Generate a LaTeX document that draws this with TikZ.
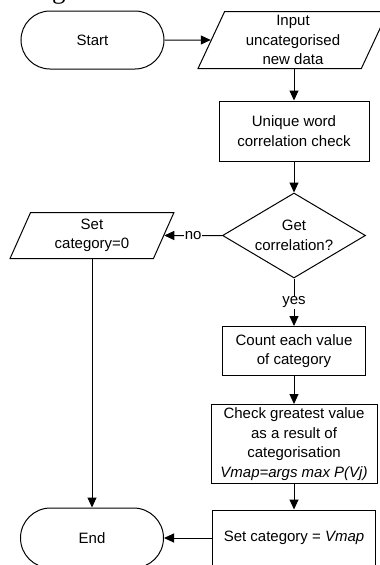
\documentclass[tikz,border=0pt]{standalone}
\usepackage{fontspec}
\setmainfont{Liberation Sans}
\newfontfamily\captionserif{Liberation Serif}
\usetikzlibrary{shapes.geometric,arrows.meta}

\begin{document}
\begin{tikzpicture}[x=1pt,y=-1pt,
		font=\fontsize{15}{19.5}\selectfont,
		line width=1pt,
		flow/.style={-{Triangle[length=10pt,width=9pt]}},
		terminal/.style={draw, rectangle, rounded corners=29pt, minimum width=143pt, minimum height=58pt},
		process/.style={draw, rectangle, align=center, inner sep=1pt},
		io/.style={draw, trapezium, trapezium left angle=70, trapezium right angle=110, trapezium stretches=true, align=center, inner sep=1pt},
		decision/.style={draw, diamond, aspect=1.68, align=center, inner sep=0pt, minimum width=143pt, minimum height=85pt},
		answer/.style={fill=white, inner sep=1pt}]
		\useasboundingbox (0,0) rectangle (380,565);
		\clip (0,0) rectangle (380,565);
		
		\node [anchor=base west, font=\captionserif\fontsize{27}{30}\selectfont] (caption) at (-2,-2) {in Figure 5:};
		
		\node [terminal] (start) at (92.5,40) {Start};
		\node [io, minimum width=190pt, minimum height=57pt] (input) at (293,40) {Input\\uncategorised\\new data};
		\node [process, minimum width=150pt, minimum height=60pt] (unique) at (294,131) {Unique word\\correlation check};
		\node [decision] (corr) at (294,235.5) {Get\\correlation?};
		\node [io, minimum width=164pt, minimum height=46pt] (setzero) at (92,235.5) {Set\\category=0};
		\node [process, minimum width=143pt, minimum height=49pt] (count) at (294,351) {Count each value\\of category};
		\node [process, minimum width=166pt, minimum height=79pt] (check) at (294,444) {Check greatest value\\as a result of\\categorisation\\\textit{Vmap=args max P(Vj)}};
		\node [process, minimum width=163pt, minimum height=56pt] (setvmap) at (294,538) {Set category = \textit{Vmap}};
		\node [terminal, minimum height=60pt, rounded corners=30pt] (end) at (92,538) {End};
		
		\draw [flow] (start) -- (input);
		\draw [flow] (input.south -| unique.north) -- (unique);
		\draw [flow] (unique) -- (corr);
		\draw [flow] (corr) -- node [answer] {no} (setzero);
		\draw [flow] (corr) -- node [answer] {yes} (count);
		\draw [flow] (count) -- (check);
		\draw [flow] (check) -- (setvmap);
		\draw [flow] (setvmap) -- (end);
		\draw [flow] (setzero) -- (end);
\end{tikzpicture}
\end{document}
